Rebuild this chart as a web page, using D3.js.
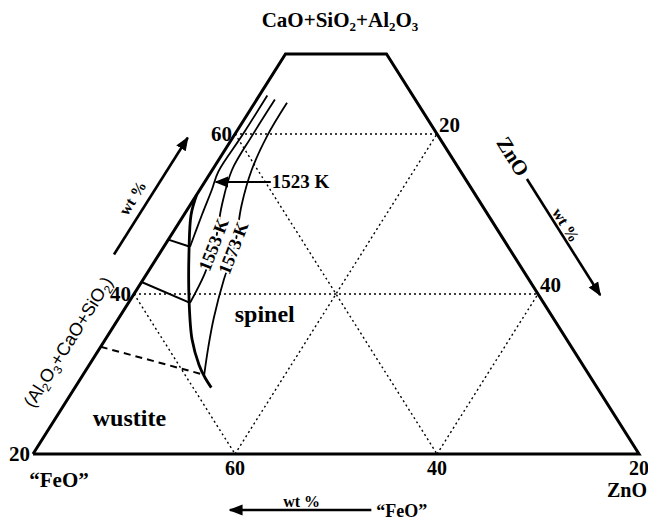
<!DOCTYPE html>
<html>
<head>
<meta charset="utf-8">
<script src="https://cdn.jsdelivr.net/npm/d3@7"></script>
<style>
body { margin: 0; background: #fff; }
text { font-family: "Liberation Serif", serif; font-weight: bold; fill: #000; }
.sans { font-family: "Liberation Sans", Arial, sans-serif; font-weight: normal; }
</style>
</head>
<body>
<svg id="chart" width="648" height="521"></svg>
<script>
// every point is [CaO+SiO2+Al2O3, ZnO] in wt%, "FeO" is what is left
var outline = [[20, 0], [70, 0], [70, 10], [20, 60]];

// dotted guide lines, 20 wt% apart
var gridLines = [
  [[40, 0], [40, 40]],   // oxides 40
  [[60, 0], [60, 20]],   // oxides 60
  [[20, 20], [60, 20]],  // ZnO 20
  [[20, 40], [40, 40]],  // ZnO 40
  [[40, 0], [20, 20]],   // FeO 60
  [[60, 0], [20, 40]]    // FeO 40
];

// spinel / wustite boundary (thick)
var boundary = [[52.4, 0], [49.9, 0.7], [45.5, 2.7], [39.3, 5.8], [34.3, 8.6], [31.1, 10.9], [29.5, 12.3], [28.3, 13.5]];

// isotherms, spinel field
var iso1523 = [[64.8, 0.8], [59.8, 0.8], [55.3, 0.7], [53, 1.2], [50.3, 1.7], [47.8, 2.2], [45.9, 2.6]];
var iso1553 = [[64.3, 1.8], [59.8, 1.8], [55.5, 1.95], [51.1, 3.15], [45.9, 5.0], [42.4, 5.75], [38.9, 6.1]];
var iso1573 = [[63.9, 3.2], [59.8, 3.3], [55.5, 3.9], [51.1, 5.1], [45.5, 7.15], [41.8, 8.0], [37, 9.4], [33.3, 10.7], [29.9, 12.0]];

// isotherms, wustite field
var wus1523 = [[46.8, 0], [45.9, 2.6]];
var wus1553 = [[41.5, 0], [38.9, 6.1]];
var wus1573 = [[33.4, 0], [29.9, 12.0]];

var leftTicks = [20, 40, 60];
var rightTicks = [20, 40];
var bottomTicks = [60, 40, 20];

var svg = d3.select("#chart");

// u runs along the bottom edge, c is read on the vertical
var x = d3.scaleLinear().domain([0, 60]).range([33, 639]);
var y = d3.scaleLinear().domain([20, 80]).range([454, -26]);

function proj(p) {
  var c = p[0], z = p[1];
  return [x(z + (c - 20) / 2), y(c)];
}

var line = d3.line().x(function(d) { return proj(d)[0]; }).y(function(d) { return proj(d)[1]; });
var curve = d3.line().curve(d3.curveCatmullRom.alpha(0.5))
  .x(function(d) { return proj(d)[0]; }).y(function(d) { return proj(d)[1]; });

// arrow head
svg.append("defs").append("marker")
  .attr("id", "head").attr("viewBox", "0 0 10 10")
  .attr("refX", 9).attr("refY", 5)
  .attr("markerWidth", 14).attr("markerHeight", 14)
  .attr("markerUnits", "userSpaceOnUse")
  .attr("orient", "auto")
  .append("path").attr("d", "M0,1 L10,5 L0,9 Z").attr("fill", "#000");

// grid
gridLines.forEach(function(g) {
  svg.append("path").attr("d", line(g))
    .attr("fill", "none").attr("stroke", "#000")
    .attr("stroke-width", 1.4).attr("stroke-dasharray", "2,3");
});

// frame
svg.append("path").attr("d", line(outline.concat([outline[0]])))
  .attr("fill", "none").attr("stroke", "#000").attr("stroke-width", 3);

// curves
svg.append("path").attr("d", curve(boundary)).attr("fill", "none").attr("stroke", "#000").attr("stroke-width", 2.8);
[iso1523, iso1553, iso1573].forEach(function(c) {
  svg.append("path").attr("d", curve(c)).attr("fill", "none").attr("stroke", "#000").attr("stroke-width", 1.8);
});
[wus1523, wus1553].forEach(function(c) {
  svg.append("path").attr("d", line(c)).attr("fill", "none").attr("stroke", "#000").attr("stroke-width", 2);
});
svg.append("path").attr("d", line(wus1573)).attr("fill", "none").attr("stroke", "#000")
  .attr("stroke-width", 2).attr("stroke-dasharray", "7,5");

// tick labels
leftTicks.forEach(function(t) {
  var p = proj([t, 0]);
  svg.append("text").attr("x", p[0] - 3).attr("y", p[1] + 7)
    .attr("text-anchor", "end").attr("font-size", 21).text(t);
});
rightTicks.forEach(function(t) {
  var p = proj([100 - 20 - t, t]);
  svg.append("text").attr("x", p[0] + 2).attr("y", p[1] - 2)
    .attr("font-size", 21).text(t);
});
bottomTicks.forEach(function(t) {
  var p = proj([20, 80 - t]);
  svg.append("text").attr("x", p[0]).attr("y", p[1] + 21)
    .attr("text-anchor", "middle").attr("font-size", 20).text(t);
});

// corner names
var cBL = proj([20, 0]), cBR = proj([20, 60]);
svg.append("text").attr("x", cBL[0] + 26).attr("y", cBL[1] + 33)
  .attr("text-anchor", "middle").attr("font-size", 21).text("\u201cFeO\u201d");
svg.append("text").attr("x", cBR[0] + 8).attr("y", cBR[1] + 43)
  .attr("text-anchor", "end").attr("font-size", 20).text("ZnO");

// text with subscripts
function chem(sel, parts, big, small) {
  parts.forEach(function(s, i) {
    var prevSub = i > 0 && parts[i - 1][1];
    sel.append("tspan").text(s[0]).attr("font-size", s[1] ? small : big)
      .attr("dy", s[1] ? 4 : (prevSub ? -4 : 0));
  });
}

var title = svg.append("text").attr("x", 340).attr("y", 27)
  .attr("text-anchor", "middle").attr("font-size", 21);
chem(title, [["CaO+SiO", 0], ["2", 1], ["+Al", 0], ["2", 1], ["O", 0], ["3", 1]], 21, 13);

// left edge: arrow and label, offsets measured along the outward normal
var ang = Math.atan2(y(80) - y(20), x(30) - x(0)) * 180 / Math.PI;   // about -57.7
function leftPt(c, off) {
  var p = proj([c, 0]), a = ang * Math.PI / 180;
  return [p[0] + off * Math.sin(a), p[1] - off * Math.cos(a)];
}
var la = leftPt(42.4, 38), lb = leftPt(57, 38);
svg.append("line").attr("x1", la[0]).attr("y1", la[1]).attr("x2", lb[0]).attr("y2", lb[1])
  .attr("stroke", "#000").attr("stroke-width", 2.6).attr("marker-end", "url(#head)");
var lw = leftPt(48.5, 47);
svg.append("text").attr("transform", "translate(" + lw[0] + "," + lw[1] + ") rotate(" + ang + ")")
  .attr("text-anchor", "middle").attr("font-size", 16).text("wt %");
var lt = leftPt(32, 24);
var ltxt = svg.append("text").attr("class", "sans")
  .attr("transform", "translate(" + lt[0] + "," + lt[1] + ") rotate(" + ang + ")")
  .attr("text-anchor", "middle").attr("font-size", 18);
chem(ltxt, [["(Al", 0], ["2", 1], ["O", 0], ["3", 1], ["+CaO+SiO", 0], ["2", 1], [")", 0]], 18, 12);

// right edge: ZnO arrow and label
var angR = -ang;
function rightPt(c, off) {
  var p = proj([c, 80 - c]), a = angR * Math.PI / 180;
  return [p[0] + off * Math.sin(a), p[1] - off * Math.cos(a)];
}
var ra = rightPt(50.9, 52), rb = rightPt(36.4, 52);
svg.append("line").attr("x1", ra[0]).attr("y1", ra[1]).attr("x2", rb[0]).attr("y2", rb[1])
  .attr("stroke", "#000").attr("stroke-width", 2.6).attr("marker-end", "url(#head)");
var rw = rightPt(44.6, 55);
svg.append("text").attr("transform", "translate(" + rw[0] + "," + rw[1] + ") rotate(" + angR + ")")
  .attr("text-anchor", "middle").attr("font-size", 16).text("wt %");
var rz = rightPt(53.7, 45);
svg.append("text").attr("transform", "translate(" + rz[0] + "," + rz[1] + ") rotate(" + angR + ")")
  .attr("text-anchor", "middle").attr("font-size", 21).text("ZnO");

// bottom arrow
var b0 = proj([20, 33.5]), b1 = proj([20, 19.5]);
svg.append("line").attr("x1", b0[0]).attr("y1", b0[1] + 56).attr("x2", b1[0]).attr("y2", b1[1] + 56)
  .attr("stroke", "#000").attr("stroke-width", 2.6).attr("marker-end", "url(#head)");
svg.append("text").attr("x", (b0[0] + b1[0]) / 2 + 1).attr("y", b0[1] + 53)
  .attr("text-anchor", "middle").attr("font-size", 16).text("wt %");
svg.append("text").attr("x", b0[0] + 5).attr("y", b0[1] + 63)
  .attr("font-size", 18).text("\u201cFeO\u201d");

// 1523 K pointer
var k1 = proj([54, 1.0]);
svg.append("line").attr("x1", k1[0] + 56).attr("y1", k1[1]).attr("x2", k1[0] + 1).attr("y2", k1[1])
  .attr("stroke", "#000").attr("stroke-width", 2.2).attr("marker-end", "url(#head)");
svg.append("text").attr("x", k1[0] + 57).attr("y", k1[1] + 6).attr("font-size", 19).text("1523 K");

// labels written into the isotherms
var p1553 = proj([45.9, 5.0]), p1573 = proj([45.5, 7.15]);
[[p1553, "1553 K"], [p1573, "1573 K"]].forEach(function(l) {
  svg.append("text").attr("transform", "translate(" + (l[0][0] + 5) + "," + l[0][1] + ") rotate(-69)")
    .attr("text-anchor", "middle").attr("font-size", 18)
    .attr("stroke", "#fff").attr("stroke-width", 4).attr("paint-order", "stroke")
    .text(l[1]);
});

// field names
var sp = proj([36.5, 14.7]);
svg.append("text").attr("x", sp[0]).attr("y", sp[1]).attr("text-anchor", "middle").attr("font-size", 24).text("spinel");
var ws = proj([23.5, 7.8]);
svg.append("text").attr("x", ws[0]).attr("y", ws[1]).attr("text-anchor", "middle").attr("font-size", 24).text("wustite");
</script>
</body>
</html>
